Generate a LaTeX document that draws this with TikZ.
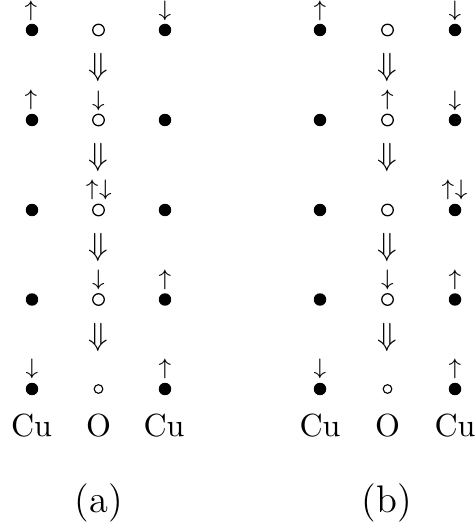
\documentclass[tikz,border=0pt]{standalone}
\begin{document}
\begin{tikzpicture}[x=0.3125pt,y=-0.3125pt,
  cu/.style={circle,fill=black,inner sep=0pt,minimum size=3.9pt},
  ox/.style={circle,draw=black,line width=0.4pt,inner sep=0pt,minimum size=3.6pt},
  oxs/.style={circle,draw=black,line width=0.35pt,inner sep=0pt,minimum size=2.7pt},
  spin/.style={inner sep=0pt},
  hop/.style={inner sep=0pt},
  lab/.style={inner sep=0pt,anchor=base},
  panellab/.style={inner sep=0pt,anchor=base,font=\large}]
\useasboundingbox (0,0) rectangle (475,528);
% ---------- panel (a) ----------
\foreach \r/\y in {1/30,2/120,3/210,4/299.5} {
  \node[cu] (a\r l) at (32,\y) {};
  \node[ox] (a\r o) at (98.5,\y) {};
  \node[cu] (a\r r) at (165,\y) {};
}
\node[cu] (a5l) at (32,389) {};
\node[oxs] (a5o) at (98.5,389) {};
\node[cu] (a5r) at (165,389) {};
\foreach \y [count=\i] in {67.5,157.5,247.5,337.5}
  \node[hop] (ah\i) at (98.5,\y) {$\Downarrow$};
\node[spin] (as1) at (31,10.8) {$\scriptstyle\uparrow$};
\node[spin] (as2) at (165,10.8) {$\scriptstyle\downarrow$};
\node[spin] (as3) at (31,100) {$\scriptstyle\uparrow$};
\node[spin] (as4) at (98.5,100.5) {$\scriptstyle\downarrow$};
\node[spin] (as5) at (98.8,190) {$\scriptstyle\uparrow\downarrow$};
\node[spin] (as6) at (98.5,279.5) {$\scriptstyle\downarrow$};
\node[spin] (as7) at (165,279.5) {$\scriptstyle\uparrow$};
\node[spin] (as8) at (32,369) {$\scriptstyle\downarrow$};
\node[spin] (as9) at (165,369) {$\scriptstyle\uparrow$};
\node[lab] (acu1) at (31.5,436) {Cu};
\node[lab] (aO) at (98.5,436) {O};
\node[lab] (acu2) at (164,436) {Cu};
\node[panellab] (acap) at (99,512) {(a)};
% ---------- panel (b) ----------
\foreach \r/\y in {1/30,2/120,3/210,4/299.5} {
  \node[cu] (b\r l) at (320,\y) {};
  \node[ox] (b\r o) at (387.5,\y) {};
  \node[cu] (b\r r) at (455,\y) {};
}
\node[cu] (b5l) at (320,389) {};
\node[oxs] (b5o) at (387.5,389) {};
\node[cu] (b5r) at (455,389) {};
\foreach \y [count=\i] in {67.5,157.5,247.5,337.5}
  \node[hop] (bh\i) at (387.5,\y) {$\Downarrow$};
\node[spin] (bs1) at (320,10.8) {$\scriptstyle\uparrow$};
\node[spin] (bs2) at (455,10.8) {$\scriptstyle\downarrow$};
\node[spin] (bs3) at (387.5,100) {$\scriptstyle\uparrow$};
\node[spin] (bs4) at (455,100.5) {$\scriptstyle\downarrow$};
\node[spin] (bs5) at (454.5,190) {$\scriptstyle\uparrow\downarrow$};
\node[spin] (bs6) at (387.5,279.5) {$\scriptstyle\downarrow$};
\node[spin] (bs7) at (455,279.5) {$\scriptstyle\uparrow$};
\node[spin] (bs8) at (320,369) {$\scriptstyle\downarrow$};
\node[spin] (bs9) at (455,369) {$\scriptstyle\uparrow$};
\node[lab] (bcu1) at (320,436) {Cu};
\node[lab] (bO) at (387.5,436) {O};
\node[lab] (bcu2) at (455,436) {Cu};
\node[panellab] (bcap) at (387,512) {(b)};
\end{tikzpicture}
\end{document}
